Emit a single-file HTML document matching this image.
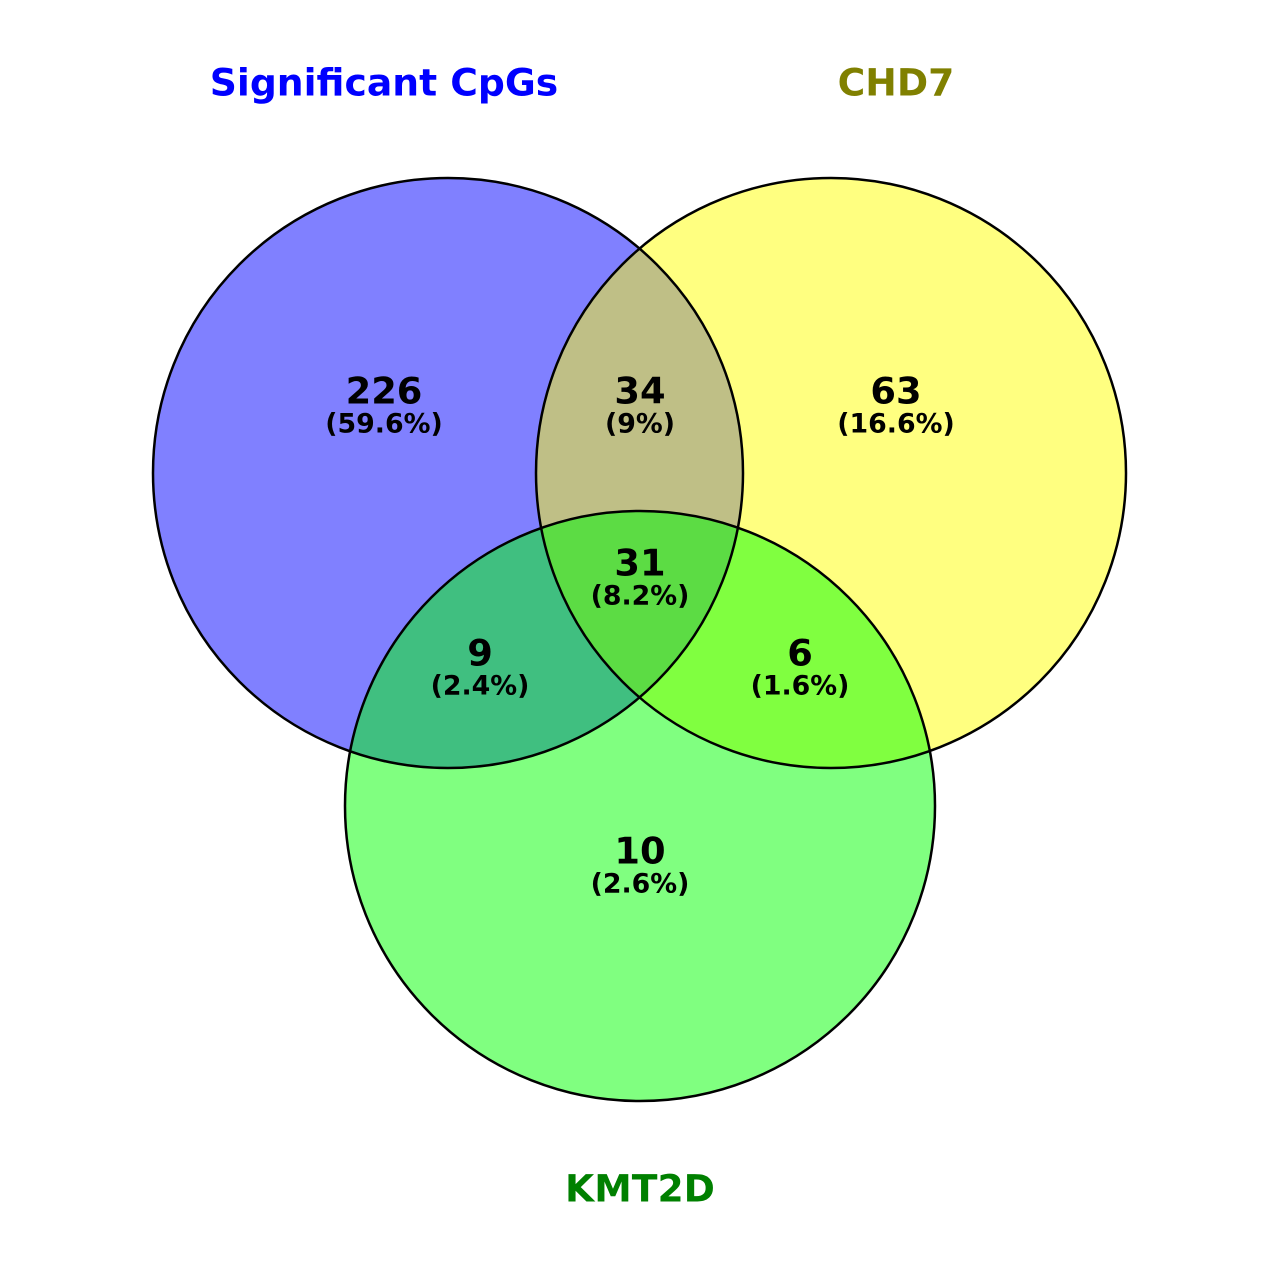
<!DOCTYPE html>
<html><head><meta charset="utf-8"><style>
html,body{margin:0;padding:0;background:#fff}
svg text{font-family:"DejaVu Sans","Liberation Sans",sans-serif;font-weight:bold}
</style></head><body>
<svg id="venn" width="1280" height="1280" viewBox="0 0 1280 1280">
<defs>
<clipPath id="clipA"><circle cx="448" cy="473" r="295"/></clipPath>
<clipPath id="clipB"><circle cx="831" cy="473" r="295"/></clipPath>
</defs>
<g id="regions"></g>
<g id="labels"></g>
</svg>
<script>
const setNames = ["Significant CpGs", "CHD7", "KMT2D"];
const setColors = ["#0000ff", "#808000", "#008000"];
const regionKeys = ["100", "010", "110", "001", "101", "011", "111"];
const regionCounts = [226, 63, 34, 10, 9, 6, 31];
const regionPcts = ["59.6%", "16.6%", "9%", "2.6%", "2.4%", "1.6%", "8.2%"];

const NS = "http://www.w3.org/2000/svg";
const circles = [{cx:448,cy:473,r:295},{cx:831,cy:473,r:295},{cx:640,cy:806,r:295}];
const fills = {"100":"#8080ff","010":"#ffff80","001":"#80ff80","110":"#bfbf86","101":"#40bf80","011":"#80ff40","111":"#5cdc44"};
const labelPos = {"100":[384,393],"010":[896,393],"110":[640,393],"001":[640,853],"101":[480,655],"011":[800,655],"111":[640,565]};
const titlePos = [[384,85],[896,85],[640,1191]];
const reg = document.getElementById('regions');
const lab = document.getElementById('labels');
function circ(c, fill, stroke){
  const e=document.createElementNS(NS,'circle');
  e.setAttribute('cx',c.cx);e.setAttribute('cy',c.cy);e.setAttribute('r',c.r);
  e.setAttribute('fill',fill);
  if(stroke){e.setAttribute('stroke','#000');e.setAttribute('stroke-width','2.5');}
  return e;
}
function addRegion(parent, key, circleIdx){
  const e=circ(circles[circleIdx], fills[key]);
  
  
  parent.appendChild(e);
}
addRegion(reg,"100",0);
addRegion(reg,"010",1);
addRegion(reg,"001",2);
let g=document.createElementNS(NS,'g');g.setAttribute('clip-path','url(#clipA)');reg.appendChild(g);
addRegion(g,"110",1);
addRegion(g,"101",2);
let g2=document.createElementNS(NS,'g');g2.setAttribute('clip-path','url(#clipB)');reg.appendChild(g2);
addRegion(g2,"011",2);
let g3=document.createElementNS(NS,'g');g3.setAttribute('clip-path','url(#clipA)');g2.appendChild(g3);
addRegion(g3,"111",2);
circles.forEach((c,i)=>{
  const e=circ(c,'none',true);
  
  
  reg.appendChild(e);
});
function txt(x,y,s,size,color,name){
  const t=document.createElementNS(NS,'text');
  t.setAttribute('x',x);t.setAttribute('y',y);t.setAttribute('font-size',size);
  t.setAttribute('fill',color);t.setAttribute('text-anchor','middle');
  t.setAttribute('dominant-baseline','middle');
  t.textContent=s;
  
  
  lab.appendChild(t);
}
regionKeys.forEach((k,i)=>{
  const p=labelPos[k];
  txt(p[0],p[1],String(regionCounts[i]),36.8,'#000','count-'+k);
  txt(p[0],p[1]+32,'('+regionPcts[i]+')',26.8,'#000','percent-'+k);
});
setNames.forEach((n,i)=>{
  txt(titlePos[i][0],titlePos[i][1],n,37.7,setColors[i],'set-title-'+(i+1));
});
</script>
</body></html>
